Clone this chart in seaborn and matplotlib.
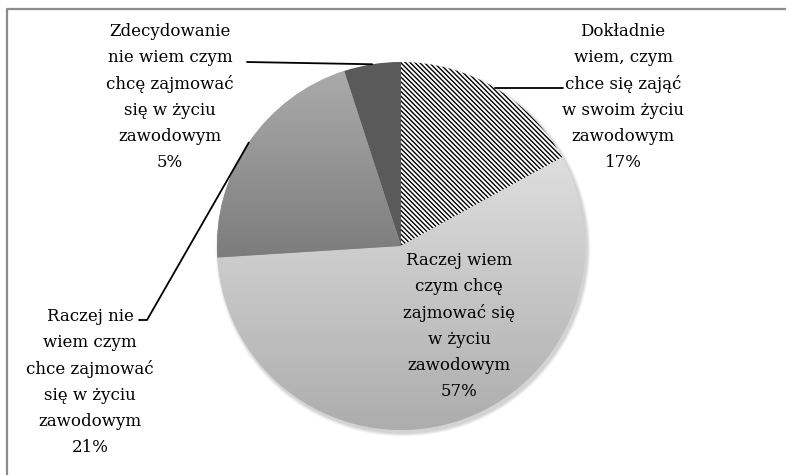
import matplotlib

matplotlib.use('Agg')
import matplotlib.pyplot as plt
import numpy as np
import seaborn as sns

# survey answers, clockwise from 12 o'clock
answers = [
    'Dokładnie\nwiem, czym\nchce się zająć\nw swoim życiu\nzawodowym',
    'Raczej wiem\nczym chcę\nzajmować się\nw życiu\nzawodowym',
    'Raczej nie\nwiem czym\nchce zajmować\nsię w życiu\nzawodowym',
    'Zdecydowanie\nnie wiem czym\nchcę zajmować\nsię w życiu\nzawodowym',
]
shares = [17, 57, 21, 5]

W, H = 786, 475


def px(x, y):
    # pixel position (top-left origin) -> data coords
    return x, H - y


sns.set_theme(style='white')
plt.rcParams['font.family'] = ['DejaVu Serif']
plt.rcParams['hatch.linewidth'] = 1.0

fig = plt.figure(figsize=(W / 100, H / 100), dpi=100)
ax = fig.add_axes([0, 0, 1, 1])

cx, cy = px(401, 246)
radius = 184

# soft drop shadow
for k, a in zip(range(6, 0, -1), [0.04, 0.05, 0.06, 0.07, 0.08, 0.09]):
    ax.add_patch(plt.Circle((cx + 2, cy - 3), radius + k * 0.6, color='#808080', alpha=a, lw=0, zorder=0))

wedges, _ = ax.pie(
    shares,
    startangle=90,
    counterclock=False,
    center=(cx, cy),
    radius=radius,
    colors=['white', '#c8c8c8', '#939393', '#5a5a5a'],
    wedgeprops=dict(linewidth=0),
)

# dense diagonal hatch on the first slice
wedges[0].set_edgecolor('black')
wedges[0].set_hatch('\\' * 7)
wedges[0].set_linewidth(0)

# vertical gradients on the two big grey slices
gradients = {
    1: sns.blend_palette(['#dedede', '#adadad'], as_cmap=True),
    2: sns.blend_palette(['#ababab', '#7c7c7c'], as_cmap=True),
}
ramp = np.linspace(0, 1, 256).reshape(-1, 1)
for i, cmap in gradients.items():
    bb = wedges[i].get_path().get_extents()
    im = ax.imshow(ramp, cmap=cmap, aspect='auto', origin='upper',
                   extent=[bb.x0, bb.x1, bb.y0, bb.y1], zorder=wedges[i].get_zorder())
    im.set_clip_path(wedges[i])

# label blocks: centre position, leader start and the little hook length
label_pos = [(623, 97), (459, 326), (90, 382), (170, 97)]
leader_from = [(563, None), None, (139, 320), (247, 62)]
hooks = [0, 0, 8, 0]

for w, text, share, pos, lead, hook in zip(wedges, answers, shares, label_pos, leader_from, hooks):
    ax.text(*px(*pos), f'{text}\n{share}%', ha='center', va='center',
            fontsize=12, linespacing=1.67, color='black', zorder=5)
    if lead is None:
        continue
    mid = np.deg2rad((w.theta1 + w.theta2) / 2)
    ex, ey = cx + radius * np.cos(mid), cy + radius * np.sin(mid)
    lx = lead[0]
    ly = ey if lead[1] is None else px(*lead)[1]
    ax.plot([lx, lx + hook, ex], [ly, ly, ey], color='black', lw=1.3, zorder=5)

# chart frame (cropped on right and bottom)
ax.plot([7, 7, W], [0, H - 9, H - 9], color='#8c8c8c', lw=1.6, solid_capstyle='butt', zorder=6)

ax.set_xlim(0, W)
ax.set_ylim(0, H)
ax.set_aspect('auto')
ax.axis('off')

fig.savefig('out.png', dpi=100, facecolor='white')
